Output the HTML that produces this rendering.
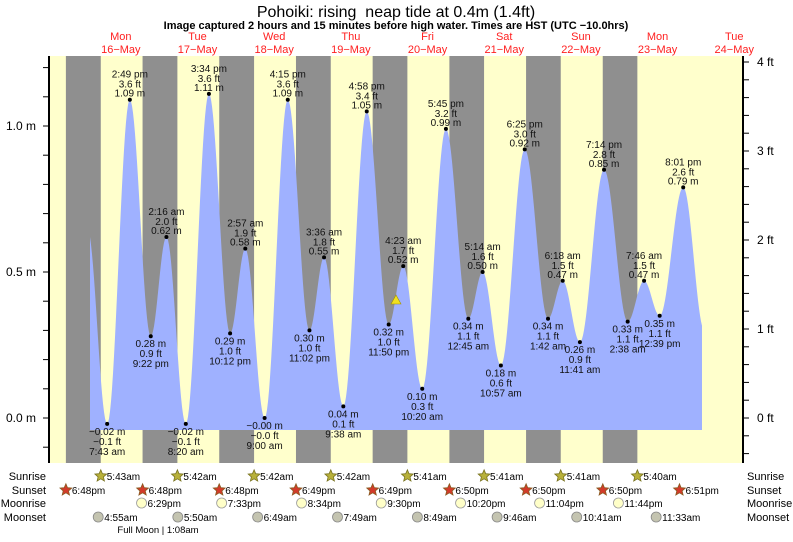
<!DOCTYPE html>
<html><head><meta charset="utf-8"><style>
body{margin:0;background:#fff;width:793px;height:537px;overflow:hidden}
svg text{font-family:"Liberation Sans",sans-serif}
</style></head><body>
<svg id="s" width="793" height="537" xmlns="http://www.w3.org/2000/svg"></svg>
<script>
const S=document.getElementById('s');let h='';
const X0=82.5,PH=3.195;const X=t=>X0+t*PH;const Y=m=>418-m*292;
const L=49,R=743,T=56,B=463;
h+=`<rect x="${L}" y="${T}" width="${R-L}" height="${B-T}" fill="#ffffcc"/>`;
const sr=[5+43/60,5+42/60,5+42/60,5+42/60,5+41/60,5+41/60,5+41/60,5+40/60];
const ss=[18.8,18.8,18.8,18+49/60,18+49/60,18+50/60,18+50/60,18+50/60,18+51/60];
for(let d=0;d<8;d++){let a=X((d-1)*24+ss[d]),b=X(d*24+sr[d]);a=Math.max(a,L);
h+=`<rect x="${a}" y="${T}" width="${b-a}" height="${B-T}" fill="#8f8f8f"/>`;}
const tm=(d,hh,mm,pm)=>d*24+(hh%12)+(pm?12:0)+mm/60;
const E=[[tm(0,1,30,0),0.65],[tm(0,7,43,0),-0.02],[tm(0,2,49,1),1.09],[tm(0,9,22,1),0.28],
[tm(1,2,16,0),0.62],[tm(1,8,20,0),-0.02],[tm(1,3,34,1),1.11],[tm(1,10,12,1),0.29],
[tm(2,2,57,0),0.58],[tm(2,9,0,0),-0.00],[tm(2,4,15,1),1.09],[tm(2,11,2,1),0.30],
[tm(3,3,36,0),0.55],[tm(3,9,38,0),0.04],[tm(3,4,58,1),1.05],[tm(3,11,50,1),0.32],
[tm(4,4,23,0),0.52],[tm(4,10,20,0),0.10],[tm(4,5,45,1),0.99],
[tm(5,0,45,0),0.34],[tm(5,5,14,0),0.50],[tm(5,10,57,0),0.18],[tm(5,6,25,1),0.92],
[tm(6,1,42,0),0.34],[tm(6,6,18,0),0.47],[tm(6,11,41,0),0.26],[tm(6,7,14,1),0.85],
[tm(7,2,38,0),0.33],[tm(7,7,46,0),0.47],[tm(7,12,39,1),0.35],[tm(7,8,1,1),0.79],[tm(8,2,40,0),0.30]];
const xs=90,xe=702;let p=`M${xs} 430`;
for(let x=xs;x<=xe;x+=1){const t=(x-X0)/PH;let m=0;
for(let i=0;i<E.length-1;i++){if(t>=E[i][0]&&t<=E[i+1][0]){const f=(t-E[i][0])/(E[i+1][0]-E[i][0]);m=E[i][1]+(E[i+1][1]-E[i][1])*(1-Math.cos(Math.PI*f))/2;break;}}
p+=` L${x} ${Y(m).toFixed(1)}`;}
p+=` L${xe} 430 Z`;
h+=`<path d="${p}" fill="#9fb1ff"/>`;
const fmt=t=>{let d=Math.floor(t/24),r=t-d*24,hh=Math.floor(r+1e-6),mm=Math.round((r-hh)*60);if(mm==60){mm=0;hh++;}
const pm=hh>=12;let h12=hh%12;if(h12==0)h12=12;return h12+':'+String(mm).padStart(2,'0')+(pm?' pm':' am');};
for(let i=1;i<E.length-1;i++){const [t,m]=E[i];const x=X(t),y=Y(m);
const hi=m>E[i-1][1];const ft=(m*3.2808).toFixed(1).replace('-','−');
let ms=(m<0||(i==9))?'−'+Math.abs(m).toFixed(2)+' m':m.toFixed(2)+' m';
let fts=(i==9)?'−0.0 ft':ft+' ft';
h+=`<circle cx="${x}" cy="${y}" r="2" fill="#000"/>`;
const ts=`font-size="10" text-anchor="middle" fill="#111"`;
if(hi){h+=`<text x="${x}" y="${y-22}" ${ts}>${fmt(t)}</text><text x="${x}" y="${y-12}" ${ts}>${fts}</text><text x="${x}" y="${y-3}" ${ts}>${ms}</text>`;}
else{h+=`<text x="${x}" y="${y+11}" ${ts}>${ms}</text><text x="${x}" y="${y+21}" ${ts}>${fts}</text><text x="${x}" y="${y+31}" ${ts}>${fmt(t)}</text>`;}}
h+=`<polygon points="391,304 401,304 396,295" fill="#f0e020" stroke="#a09000" stroke-width="0.6"/>`;
h+=`<line x1="${L}" y1="${T}" x2="${L}" y2="${B}" stroke="#000" stroke-width="2"/><line x1="${R}" y1="${T}" x2="${R}" y2="${B}" stroke="#000" stroke-width="2"/>`;
for(let m=-0.1;m<=1.25;m+=0.1){const y=Y(m);h+=`<line x1="${L-6}" y1="${y}" x2="${L}" y2="${y}" stroke="#000"/>`;}
[[1,'1.0 m'],[0.5,'0.5 m'],[0,'0.0 m']].forEach(([m,s])=>h+=`<text x="36" y="${Y(m)+4}" font-size="12" text-anchor="end">${s}</text>`);
for(let f=-0.4;f<=4.05;f+=0.2){const y=418-f*89;if(y<T)continue;h+=`<line x1="${R}" y1="${y}" x2="${R+6}" y2="${y}" stroke="#000"/>`;}
for(let f=0;f<=4;f++)h+=`<text x="757" y="${418-f*89+4}" font-size="12">${f} ft</text>`;
h+=`<text x="396" y="17" font-size="16" text-anchor="middle">Pohoiki: rising&#160; neap tide at 0.4m (1.4ft)</text>`;
h+=`<text x="396" y="29" font-size="11" font-weight="bold" text-anchor="middle">Image captured 2 hours and 15 minutes before high water. Times are HST (UTC −10.0hrs)</text>`;
const dn=['Mon','Tue','Wed','Thu','Fri','Sat','Sun','Mon','Tue'];
for(let d=0;d<9;d++){const x=X(d*24+12);h+=`<text x="${x}" y="40" font-size="11" fill="#ff2020" text-anchor="middle">${dn[d]}</text><text x="${x}" y="53" font-size="11" fill="#ff2020" text-anchor="middle">${16+d}−May</text>`;}
const rows=[['Sunrise',476],['Sunset',490],['Moonrise',503],['Moonset',517]];
rows.forEach(([n,y])=>{h+=`<text x="46" y="${y+4}" font-size="11" text-anchor="end">${n}</text><text x="747" y="${y+4}" font-size="11">${n}</text>`;});
const star=(x,y,f,st)=>{let pts=[];for(let k=0;k<10;k++){const r=k%2?2.8:6.2,a=-Math.PI/2+k*Math.PI/5;pts.push((x+r*Math.cos(a)).toFixed(1)+','+(y+r*Math.sin(a)).toFixed(1));}return `<polygon points="${pts.join(' ')}" fill="${f}" stroke="${st}" stroke-width="0.8"/>`;};
const lab=(x,y,s)=>`<text x="${x+6}" y="${y+4}" font-size="10">${s}</text>`;
const srl=['5:43am','5:42am','5:42am','5:42am','5:41am','5:41am','5:41am','5:40am'];
for(let d=0;d<8;d++){const x=X(d*24+sr[d]);h+=star(x,476,'#b8b13a','#7a7420')+lab(x,476,srl[d]);}
const ssl=['6:48pm','6:48pm','6:48pm','6:49pm','6:49pm','6:50pm','6:50pm','6:50pm','6:51pm'];
for(let d=0;d<9;d++){const x=X((d-1)*24+ss[d]);h+=star(x,490,'#d33a2a','#8a5a20')+lab(x,490,ssl[d]);}
const mr=[[18,29,'6:29pm'],[19,33,'7:33pm'],[20,34,'8:34pm'],[21,30,'9:30pm'],[22,20,'10:20pm'],[23,4,'11:04pm'],[23,44,'11:44pm']];
mr.forEach(([hh,mm,s],d)=>{const x=X(d*24+hh+mm/60);h+=`<circle cx="${x}" cy="503" r="5" fill="#ffffc8" stroke="#999" stroke-width="0.8"/>`+lab(x,503,s);});
const ms2=[[4,55,'4:55am'],[5,50,'5:50am'],[6,49,'6:49am'],[7,49,'7:49am'],[8,49,'8:49am'],[9,46,'9:46am'],[10,41,'10:41am'],[11,33,'11:33am']];
ms2.forEach(([hh,mm,s],d)=>{const x=X(d*24+hh+mm/60);h+=`<circle cx="${x}" cy="517" r="5" fill="#c4c4b0" stroke="#888" stroke-width="0.8"/>`+lab(x,517,s);});
h+=`<text x="158" y="533" font-size="9.5" text-anchor="middle">Full Moon | 1:08am</text>`;
S.innerHTML=h;
</script>
</body></html>
